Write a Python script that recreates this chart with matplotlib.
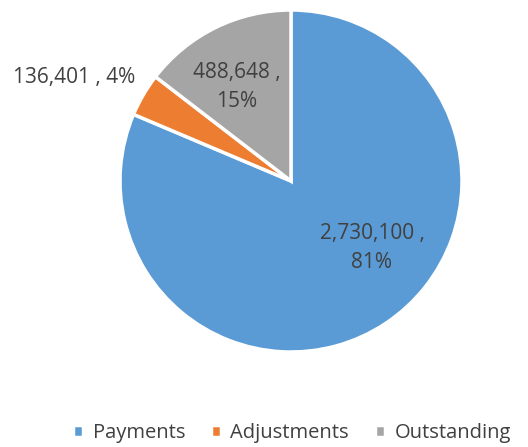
import numpy as np
import matplotlib.pyplot as plt

categories = ['Payments', 'Adjustments', 'Outstanding']
values = [2730100, 136401, 488648]
colors = ['#5B9BD5', '#ED7D31', '#A5A5A5']
# label positions relative to the pie centre, in pixels (x right, y up)
label_offsets = [(81, -67), (-217, 103), (-54, 94)]
label_texts = ['2,730,100 ,\n81%', '136,401 , 4%', '488,648 ,\n15%']

plt.rcParams['font.family'] = ['Open Sans', 'DejaVu Sans']

W, H = 528, 447
fig = plt.figure(figsize=(W / 100, H / 100), dpi=100)
ax = fig.add_axes([0, 0, 1, 1])
ax.axis('off')

cx, cy, r = 291, H - 181, 171
wedges, _ = ax.pie(values, colors=colors, startangle=90, counterclock=False,
                   center=(cx, cy), radius=r,
                   wedgeprops=dict(edgecolor='white', linewidth=2.5))
ax.set_xlim(0, W)
ax.set_ylim(0, H)
ax.set_aspect('equal')

for (dx, dy), t in zip(label_offsets, label_texts):
    ax.text(cx + dx, cy + dy, t, ha='center', va='center', fontsize=15,
            color='#404040', linespacing=1.5)

leg = fig.legend(wedges, categories, loc='center', ncol=3, frameon=False,
                 bbox_to_anchor=(292 / W, 1 - 433 / H), fontsize=14.5,
                 handlelength=0.5, handleheight=0.5, handletextpad=0.45,
                 columnspacing=1.3)
for t in leg.get_texts():
    t.set_color('#404040')

fig.savefig('out.png', dpi=100)
